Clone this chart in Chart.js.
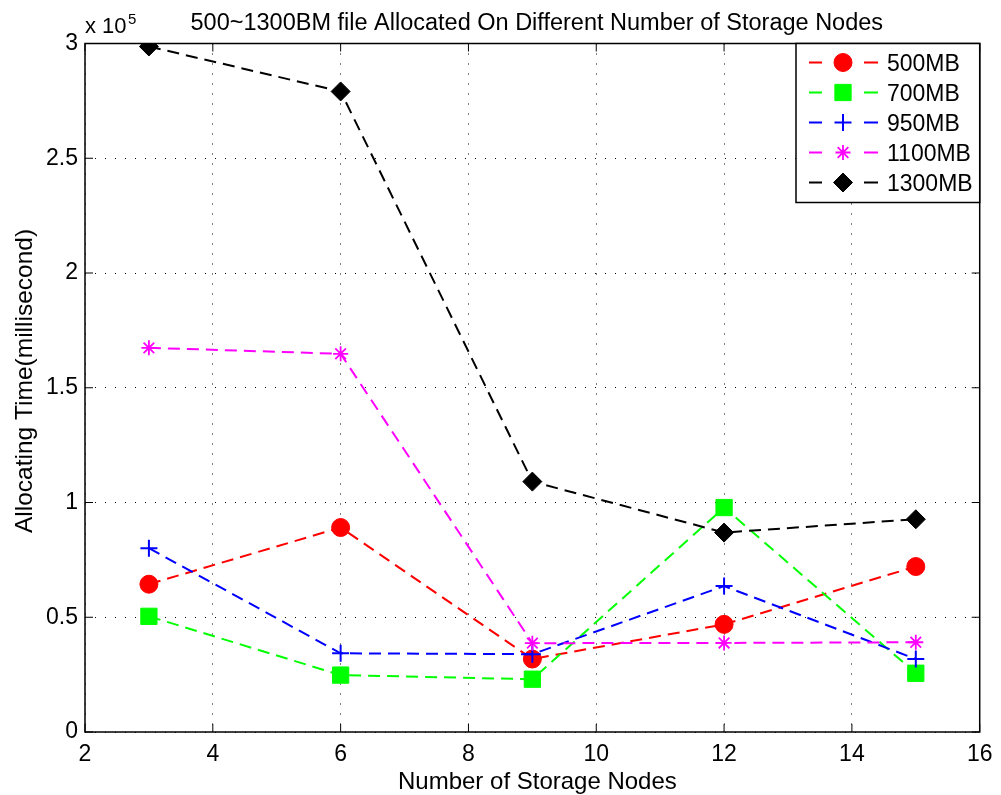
<!DOCTYPE html>
<html>
<head>
<meta charset="utf-8">
<title>Allocating time vs storage nodes</title>
<script src="https://cdn.jsdelivr.net/npm/chart.js@4/dist/chart.umd.min.js"></script>
<style>
  html, body { margin: 0; padding: 0; background: #ffffff; }
  #wrap { width: 1001px; height: 795px; }
</style>
</head>
<body>
<div id="wrap"><canvas id="nodesChart" width="1001" height="795"></canvas></div>
<script>
// data (milliseconds)
const nodeCounts = [3, 6, 9, 12, 15];
const seriesNames = ['500MB', '700MB', '950MB', '1100MB', '1300MB'];
const time500 = [64400, 89100, 31800, 46900, 72100];
const time700 = [50400, 24800, 23000, 97800, 25600];
const time950 = [80100, 34300, 33900, 63600, 31800];
const time1100 = [167400, 164800, 38700, 38800, 39100];
const time1300 = [298700, 279100, 109100, 86900, 92700];
const xTicks = [2, 4, 6, 8, 10, 12, 14, 16];
const yTicks = [0, 50000, 100000, 150000, 200000, 250000, 300000];

const chartTitle = '500~1300BM file Allocated On Different Number of Storage Nodes';
const xTitle = 'Number of Storage Nodes';
const yTitle = 'Allocating Time(millisecond)';

const FONT = "'Liberation Sans', Arial, sans-serif";

Chart.defaults.font.family = FONT;
Chart.defaults.font.size = 23;
Chart.defaults.color = '#000000';

const styles = [
    { color: '#ff0000', point: 'circle', r: 9, bw: 1 },
    { color: '#00ff00', point: 'rect', r: 11.5, bw: 1 },
    { color: '#0000ff', point: 'cross', r: 8.5, bw: 2 },
    { color: '#ff00ff', point: 'star', r: 7.5, bw: 1.8 },
    { color: '#000000', point: 'rectRot', r: 9.5, bw: 1 }
];
const allSeries = [time500, time700, time950, time1100, time1300];

const datasets = allSeries.map((vals, i) => ({
    label: seriesNames[i],
    data: nodeCounts.map((x, j) => ({ x: x, y: vals[j] })),
    borderColor: styles[i].color,
    backgroundColor: styles[i].color,
    borderWidth: 2,
    borderDash: [12, 7],
    pointStyle: styles[i].point,
    pointRadius: styles[i].r,
    pointBorderWidth: styles[i].bw,
    pointBorderColor: styles[i].color,
    pointBackgroundColor: styles[i].color,
    tension: 0,
    order: 4 - i   // later series on top, like the original
}));

// own marker painter for the legend box
function drawMarker(ctx, style, x, y, r, color, lw) {
    ctx.save();
    ctx.fillStyle = color;
    ctx.strokeStyle = color;
    ctx.lineWidth = lw;
    ctx.beginPath();
    if (style === 'circle') {
        ctx.arc(x, y, r, 0, Math.PI * 2);
        ctx.fill(); ctx.stroke();
    } else if (style === 'rect') {
        let s = r * Math.SQRT1_2;
        ctx.rect(x - s, y - s, 2 * s, 2 * s);
        ctx.fill(); ctx.stroke();
    } else if (style === 'rectRot') {
        ctx.moveTo(x - r, y); ctx.lineTo(x, y - r);
        ctx.lineTo(x + r, y); ctx.lineTo(x, y + r);
        ctx.closePath();
        ctx.fill(); ctx.stroke();
    } else if (style === 'cross') {
        ctx.moveTo(x - r, y); ctx.lineTo(x + r, y);
        ctx.moveTo(x, y - r); ctx.lineTo(x, y + r);
        ctx.stroke();
    } else if (style === 'star') {
        ctx.moveTo(x - r, y); ctx.lineTo(x + r, y);
        ctx.moveTo(x, y - r); ctx.lineTo(x, y + r);
        let d = r * Math.SQRT1_2;
        ctx.moveTo(x - d, y - d); ctx.lineTo(x + d, y + d);
        ctx.moveTo(x - d, y + d); ctx.lineTo(x + d, y - d);
        ctx.stroke();
    }
    ctx.restore();
}

function putText(ctx, text, x, y, size, rot) {
    ctx.save();
    ctx.font = size + 'px ' + FONT;
    ctx.fillStyle = '#000';
    ctx.textAlign = 'left';
    ctx.textBaseline = 'alphabetic';
    ctx.translate(x, y);
    if (rot) ctx.rotate(rot);
    ctx.fillText(text, 0, 0);
    ctx.restore();
}

const matlabLook = {
    id: 'matlabLook',
    afterDraw(chart) {
        const ctx = chart.ctx;
        const a = chart.chartArea;
        const xs = chart.scales.x, ys = chart.scales.y;

        // box + inward ticks on all four sides
        ctx.save();
        ctx.strokeStyle = '#000';
        ctx.lineWidth = 1;
        ctx.beginPath();
        xTicks.forEach(v => {
            let px = xs.getPixelForValue(v);
            ctx.moveTo(px, a.bottom); ctx.lineTo(px, a.bottom - 8);
            ctx.moveTo(px, a.top); ctx.lineTo(px, a.top + 8);
        });
        yTicks.forEach(v => {
            let py = ys.getPixelForValue(v);
            ctx.moveTo(a.left, py); ctx.lineTo(a.left + 8, py);
            ctx.moveTo(a.right, py); ctx.lineTo(a.right - 8, py);
        });
        ctx.stroke();
        ctx.lineWidth = 1.5;
        ctx.strokeRect(a.left, a.top, a.right - a.left, a.bottom - a.top);
        ctx.restore();

        // titles
        putText(ctx, chartTitle, 190.5, 29.5, 23.5);
        putText(ctx, xTitle, 398, 789, 24);
        putText(ctx, yTitle, 31.5, 533, 24.5, -Math.PI / 2);
        putText(ctx, 'x 10', 85, 33, 22);
        putText(ctx, '5', 128, 24, 15);

        // legend
        const bx = 796, by = a.top, bw = a.right - bx, bh = 159;
        ctx.save();
        ctx.fillStyle = '#fff';
        ctx.fillRect(bx, by, bw, bh);
        ctx.strokeStyle = '#000';
        ctx.lineWidth = 1.5;
        ctx.strokeRect(bx, by, bw, bh);
        ctx.restore();
        seriesNames.forEach((name, i) => {
            const st = styles[i];
            const cy = by + 19 + 30 * i;
            ctx.save();
            ctx.strokeStyle = st.color;
            ctx.lineWidth = 2;
            ctx.beginPath();
            ctx.moveTo(809, cy); ctx.lineTo(822, cy);
            ctx.moveTo(864, cy); ctx.lineTo(878, cy);
            ctx.stroke();
            ctx.restore();
            drawMarker(ctx, st.point, 843, cy, st.r, st.color, st.bw);
            putText(ctx, name, 887, cy + 8.5, 23);
        });
    }
};

const ctx = document.getElementById('nodesChart').getContext('2d');
new Chart(ctx, {
    type: 'line',
    data: { datasets: datasets },
    options: {
        responsive: false,
        animation: false,
        devicePixelRatio: 1,
        layout: { padding: { left: 0, top: 43.5, right: 18.5, bottom: 0 } },
        plugins: {
            legend: { display: false },
            title: { display: false },
            tooltip: { enabled: false }
        },
        scales: {
            x: {
                type: 'linear',
                min: 2,
                max: 16,
                afterBuildTicks: scale => { scale.ticks = xTicks.map(v => ({ value: v })); },
                afterFit: scale => { scale.height = 63; },
                ticks: { padding: 8.5, font: { size: 23 }, maxRotation: 0 },
                grid: { color: '#000', lineWidth: 1, drawTicks: false },
                border: { display: false, dash: [1, 9] }
            },
            y: {
                min: 0,
                max: 300000,
                afterBuildTicks: scale => { scale.ticks = yTicks.map(v => ({ value: v })); },
                afterFit: scale => { scale.width = 85; },
                ticks: {
                    padding: 7,
                    font: { size: 23 },
                    callback: v => String(v / 100000)
                },
                grid: { color: '#000', lineWidth: 1, drawTicks: false },
                border: { display: false, dash: [1, 9] }
            }
        }
    },
    plugins: [matlabLook]
});
</script>
</body>
</html>
